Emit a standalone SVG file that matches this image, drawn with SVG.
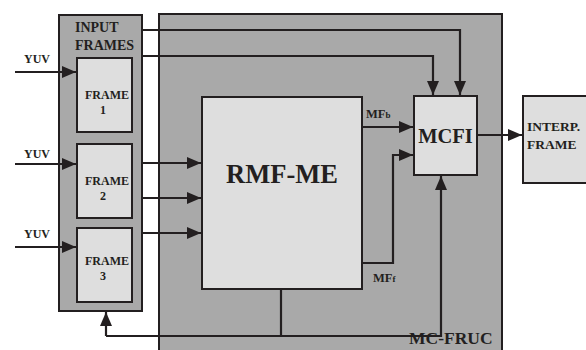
<svg xmlns="http://www.w3.org/2000/svg" width="586" height="350" viewBox="0 0 586 350">
<defs>
<marker id="ah" markerWidth="14" markerHeight="12" refX="14" refY="6" orient="auto" markerUnits="userSpaceOnUse">
<path d="M0,0 L14,6 L0,12 Z" fill="#231f20"/>
</marker>
<style>
.dark{fill:#a9a9a9;stroke:#231f20;stroke-width:2}
.light{fill:#dedede;stroke:#231f20;stroke-width:2}
.ln{fill:none;stroke:#231f20;stroke-width:2.2}
text{font-family:"Liberation Serif","Times New Roman",serif;font-weight:bold;fill:#231f20}
</style>
</defs>
<rect width="586" height="350" fill="#ffffff"/>
<g id="mc-fruc">
<rect class="dark" x="159" y="14" width="343" height="350"/>
<text x="409" y="344" font-size="17.5">MC-FRUC</text>
</g>
<g id="input-frames">
<rect class="dark" x="59" y="15" width="83" height="296"/>
<text x="75" y="32" font-size="14">INPUT</text>
<text x="75" y="50" font-size="14">FRAMES</text>
</g>
<g id="frame1">
<rect class="light" x="77" y="58" width="55" height="74"/>
<text x="85" y="99" font-size="12">FRAME</text>
<text x="100" y="114" font-size="12">1</text>
</g>
<g id="frame2">
<rect class="light" x="77" y="144" width="55" height="74"/>
<text x="85" y="185" font-size="12">FRAME</text>
<text x="100" y="200" font-size="12">2</text>
</g>
<g id="frame3">
<rect class="light" x="77" y="228" width="55" height="74"/>
<text x="85" y="265" font-size="12">FRAME</text>
<text x="100" y="280" font-size="12">3</text>
</g>
<g id="rmf-me">
<rect class="light" x="202" y="97" width="160" height="192"/>
<text x="282" y="183" font-size="26.5" text-anchor="middle">RMF-ME</text>
</g>
<g id="mcfi">
<rect class="light" x="414" y="96" width="63" height="79"/>
<text x="445.5" y="143" font-size="20.5" text-anchor="middle">MCFI</text>
</g>
<g id="interp-frame">
<rect class="light" x="523" y="96" width="70" height="87"/>
<text x="527" y="131" font-size="13.5">INTERP.</text>
<text x="527" y="149" font-size="13.5">FRAME</text>
</g>
<g id="labels">
<text x="24" y="63" font-size="12">YUV</text>
<text x="24" y="158" font-size="12">YUV</text>
<text x="24" y="238" font-size="12">YUV</text>
<text x="366" y="118" font-size="12.5">MF<tspan font-size="9">b</tspan></text>
<text x="373" y="282" font-size="12.5">MF<tspan font-size="9">f</tspan></text>
</g>
<g id="connectors">
<path class="ln" d="M15,72 H76" marker-end="url(#ah)"/>
<path class="ln" d="M15,164 H76" marker-end="url(#ah)"/>
<path class="ln" d="M15,247 H76" marker-end="url(#ah)"/>
<path class="ln" d="M142,163 H201" marker-end="url(#ah)"/>
<path class="ln" d="M142,198 H201" marker-end="url(#ah)"/>
<path class="ln" d="M142,233 H201" marker-end="url(#ah)"/>
<path class="ln" d="M142,30 H460 V95" marker-end="url(#ah)"/>
<path class="ln" d="M142,56 H433 V95" marker-end="url(#ah)"/>
<path class="ln" d="M362,127 H413" marker-end="url(#ah)"/>
<path class="ln" d="M362,263 H393 V155 H413" marker-end="url(#ah)"/>
<path class="ln" d="M477,135 H522" marker-end="url(#ah)"/>
<path class="ln" d="M281,289 V336"/>
<path class="ln" d="M106,336 H441 V176" marker-end="url(#ah)"/>
<path class="ln" d="M106,336 V312" marker-end="url(#ah)"/>
</g>
</svg>
